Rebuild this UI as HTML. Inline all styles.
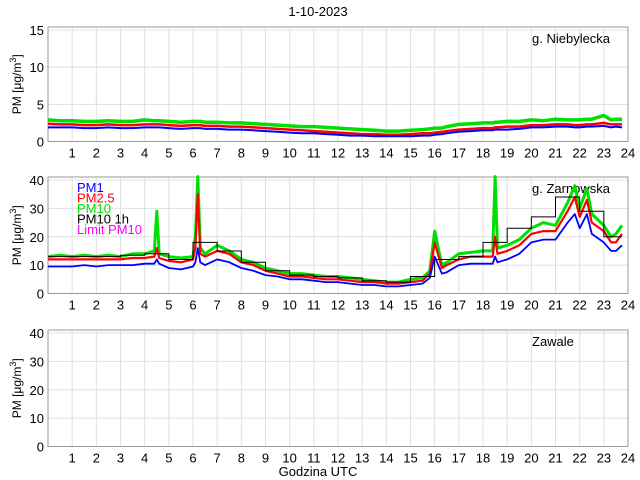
<!DOCTYPE html>
<html><head><meta charset="utf-8"><style>
body{margin:0;background:#fff;}
svg{display:block;font-family:"Liberation Sans",sans-serif;}
</style></head><body>
<svg id="chart" width="640" height="480"></svg>
<script>
const hours = [0,0.5,1,1.5,2,2.5,3,3.5,4,4.4,4.5,4.6,5,5.5,6,6.1,6.2,6.3,6.5,7,7.5,8,8.5,9,9.5,10,10.5,11,11.5,12,12.5,13,13.5,14,14.5,15,15.5,15.8,16,16.3,16.5,17,17.5,18,18.4,18.5,18.6,19,19.5,20,20.5,21,21.5,21.8,22,22.3,22.5,23,23.3,23.5,23.75];
// Panel 1 (g. Niebylecka)
const n_pm10 = [2.9,2.8,2.8,2.7,2.7,2.8,2.7,2.7,2.9,2.8,2.8,2.8,2.7,2.6,2.7,2.7,2.7,2.7,2.6,2.6,2.5,2.5,2.4,2.3,2.2,2.1,2.0,2.0,1.9,1.8,1.7,1.6,1.5,1.4,1.4,1.5,1.6,1.7,1.8,1.8,2.0,2.3,2.4,2.5,2.5,2.6,2.6,2.7,2.7,2.9,2.8,3.0,2.9,2.9,2.9,3.0,3.0,3.5,2.9,3.0,3.0];
const n_pm25 = [2.4,2.3,2.3,2.2,2.2,2.3,2.2,2.2,2.3,2.3,2.3,2.3,2.2,2.1,2.2,2.2,2.2,2.2,2.1,2.1,2.0,2.0,1.9,1.8,1.7,1.6,1.5,1.4,1.3,1.2,1.1,1.0,1.0,0.9,0.9,1.0,1.1,1.1,1.2,1.3,1.4,1.6,1.7,1.8,1.8,1.9,1.9,2.0,2.0,2.2,2.2,2.3,2.3,2.2,2.2,2.3,2.3,2.5,2.3,2.3,2.3];
const n_pm1 = [1.9,1.9,1.9,1.8,1.8,1.9,1.8,1.8,1.9,1.9,1.9,1.9,1.8,1.7,1.8,1.8,1.8,1.8,1.7,1.7,1.6,1.6,1.5,1.4,1.3,1.2,1.1,1.1,1.0,0.9,0.8,0.8,0.7,0.7,0.7,0.7,0.8,0.8,0.9,1.0,1.1,1.3,1.4,1.5,1.5,1.6,1.6,1.6,1.7,1.9,1.9,2.0,2.0,1.9,1.9,2.0,2.0,2.1,1.9,2.0,1.9];
// Panel 2 (g. Zarnowska)
const z_pm10 = [13,13.5,13,13.5,13,13.5,13,14,14,15,29,14,13,12.5,13,20,45,16,14,17,15,12,11,9,8,7,7,6.5,6,6,5.5,5,4.5,4,4,5,5.5,8,22,10,11,14,14.5,15,15,45,16,17,19,23,25,24,32,38,30,37,28,24,20,21,24];
const z_pm25 = [12,12,12,12,12,12,12,12.5,12.5,13,16,12.5,11.5,11,12,16,35,14,13,15,14,11,10,8,7,6,6,5.5,5,5,4.5,4,4,3.5,3.5,4,4.5,7,18,9,10,12,13,13,13,20,14,15,17,21,22,22,29,34,27,33,25,22,18,18,21];
const z_pm1 = [9.5,9.5,9.5,10,9.5,10,10,10,10.5,10.5,12,10.5,9,8.5,9.5,11,16,11,10,12,11,9,8,6.5,6,5,5,4.5,4,4,3.5,3,3,2.5,2.5,3,3.5,5.5,13,7,7.5,10,10.5,10.5,10.5,13,11,12,14,18,19,19,25,28,23,28,21,18,15,15,17];
const z_1h_vals = [13,13,13,13.5,14,12,18,15,11,8,6.5,6,5.5,4.5,4,6,12,13,18,23,27,34,29,20];
const legendLabels = ["PM1","PM2.5","PM10","PM10 1h","Limit PM10"];
const xTicks = [1,2,3,4,5,6,7,8,9,10,11,12,13,14,15,16,17,18,19,20,21,22,23,24];

const svg=document.getElementById('chart');
const NS='http://www.w3.org/2000/svg';
function mk(tag,attrs,parent){const e=document.createElementNS(NS,tag);for(const k in attrs)e.setAttribute(k,attrs[k]);(parent||svg).appendChild(e);return e;}
const X0=48,X1=628;
const xs=h=>X0+h*(X1-X0)/24;

function panel(key,top,bottom,ymax,yticks,station){
  const g=mk('g',{});
  
  
  const ys=v=>bottom-Math.min(v,ymax*1.03)*(bottom-top-3)/ymax;
  mk('rect',{x:X0,y:top,width:X1-X0,height:bottom-top,fill:'#fff'},g);
  xTicks.forEach(h=>{mk('line',{x1:xs(h),x2:xs(h),y1:top,y2:bottom,stroke:'#e0e0e0','stroke-width':1},g);
    const t=mk('text',{x:xs(h),y:bottom+16,'text-anchor':'middle','font-size':13,fill:'#000'},g);t.textContent=h;
    });
  yticks.forEach(v=>{const y=ys(v);if(v>0)mk('line',{x1:X0,x2:X1,y1:y,y2:y,stroke:'#e0e0e0','stroke-width':1},g);
    const t=mk('text',{x:X0-4,y:y+5,'text-anchor':'end','font-size':13,fill:'#000'},g);t.textContent=v;
    });
  mk('rect',{x:X0,y:top,width:X1-X0,height:bottom-top,fill:'none',stroke:'#999','stroke-width':1},g);
  const yl=mk('text',{x:0,y:0,'text-anchor':'middle','font-size':12,transform:`translate(21,${(top+bottom)/2}) rotate(-90)`},g);
  yl.innerHTML='PM [&#956;g/m<tspan dy="-5" font-size="9">3</tspan><tspan dy="5">]</tspan>';
  
  const st=mk('text',{x:532,y:top+16,'font-size':13,fill:'#000'},g);st.textContent=station;
  
  return {g,ys};
}
function series(p,vals,color,w,name){
  const pts=hours.map((h,i)=>xs(h).toFixed(1)+','+p.ys(vals[i]).toFixed(1)).join(' ');
  const l=mk('polyline',{points:pts,fill:'none',stroke:color,'stroke-width':w,'stroke-linejoin':'round'},p.g);
  
  
}
const t=mk('text',{x:318,y:16,'text-anchor':'middle','font-size':13});t.textContent='1-10-2023';


const p1=panel('niebylecka',27,141.5,15,[0,5,10,15],'g. Niebylecka');
series(p1,n_pm10,'#00e000',3.5,'pm10-line');
series(p1,n_pm25,'#ff0000',2.5,'pm25-line');
series(p1,n_pm1,'#0000ff',2,'pm1-line');

const p2=panel('zarnowska',177,293.5,40,[0,10,20,30,40],'g. Zarnowska');
series(p2,z_pm10,'#00e000',3,'pm10-line');
series(p2,z_pm25,'#ff0000',2.2,'pm25-line');
series(p2,z_pm1,'#0000ff',1.8,'pm1-line');
let d='';z_1h_vals.forEach((v,i)=>{const x=xs(i),x2=xs(Math.min(i+1,23.75)),y=p2.ys(v);d+=(i?'L':'M')+x+','+y+'L'+x2+','+y;});
const s1=mk('path',{d,fill:'none',stroke:'#000','stroke-width':1},p2.g);

const lc=['#0000ff','#ff0000','#00e000','#000','#ff00ff'];
legendLabels.forEach((lab,i)=>{const e=mk('text',{x:77,y:192+i*10.5,'font-size':13,fill:lc[i]},p2.g);e.textContent=lab;
  });

panel('zawale',330,446.5,40,[0,10,20,30,40],'Zawale');
const xl=mk('text',{x:318,y:476,'text-anchor':'middle','font-size':13});xl.textContent='Godzina UTC';

</script>
</body></html>
